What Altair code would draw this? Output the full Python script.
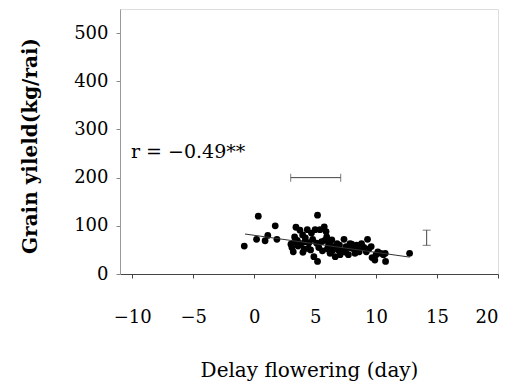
import altair as alt
import pandas as pd

# scatter points: delay flowering (day) vs grain yield (kg/rai)
px = [-0.81, 0.34, 0.2, 0.9, 1.12, 1.73, 1.87, 3.02, 3.21, 3.43, 3.32, 3.54, 3.76, 3.84,
      3.98, 4.17, 4.36, 4.44, 4.63, 4.9, 5.0, 5.2, 5.2, 5.4, 5.75, 5.13, 5.54, 5.95, 6.1,
      6.23, 6.37, 6.5, 6.65, 6.8, 6.9, 7.05, 7.37, 7.54, 7.73, 7.86, 8.08, 8.27, 8.4, 8.62,
      8.81, 9.3, 9.2, 9.6, 9.67, 9.9, 10.15, 10.4, 10.75, 10.78, 12.75,
      3.1, 3.6, 4.0, 4.2, 4.5, 4.7, 5.3, 5.6, 5.8, 6.0, 6.2, 6.4, 6.7, 7.0, 7.2, 7.5, 7.8,
      8.0, 8.5, 9.0, 9.4, 10.0, 10.6, 4.8, 5.9, 3.3, 4.1]
py = [58, 120, 72, 69, 80, 100, 72, 62, 46, 97, 77, 70, 91, 63, 81, 67, 92, 53, 50, 36,
      92, 122, 26, 92, 98, 64, 67, 77, 60, 43, 71, 57, 36, 63, 50, 40, 72, 57, 40, 63, 53,
      43, 60, 46, 63, 72, 46, 57, 34, 29, 46, 43, 43, 26, 43,
      55, 58, 45, 75, 65, 85, 55, 48, 70, 52, 66, 48, 55, 60, 48, 45, 55, 62, 52, 55, 52,
      40, 40, 72, 88, 66, 52]

# regression line end points
line_x = [-0.75, 12.77]
line_y = [83, 35]

# horizontal error bar (x spread) and vertical error bar (y spread)
hbar_x = [3.0, 7.1]
hbar_y = [200]
vbar_x = [14.15]
vbar_y = [59.5, 91]

x_ticks = [-10, -5, 0, 5, 10, 15, 20]
y_ticks = [0, 100, 200, 300, 400, 500]

FONT = "DejaVu Serif"
W, H = 378, 265

xs = alt.Scale(domain=[-11, 20], nice=False, zero=False)
ys = alt.Scale(domain=[0, 550], nice=False)

pts = pd.DataFrame({"x": px, "y": py})
ln = pd.DataFrame({"x": line_x, "y": line_y})
hb = pd.DataFrame({"x": [hbar_x[0]], "x2": [hbar_x[1]], "y": hbar_y})
hb_caps = pd.DataFrame({"x": hbar_x, "y": hbar_y * 2})
vb = pd.DataFrame({"x": vbar_x, "y": [vbar_y[0]], "y2": [vbar_y[1]]})
vb_caps = pd.DataFrame({"x": vbar_x * 2, "y": vbar_y})

xaxis = alt.Axis(values=x_ticks, title="Delay flowering (day)", grid=False,
                 labelFont=FONT, labelFontSize=18, labelColor="black", labelPadding=30,
                 tickSize=4, tickColor="#444", domainColor="#444",
                 titleFont=FONT, titleFontSize=20, titleFontWeight="normal", titleColor="black",
                 titleY=96, titleBaseline="middle")
yaxis = alt.Axis(values=y_ticks, title="Grain yileld(kg/rai)", grid=False,
                 labelFont=FONT, labelFontSize=18, labelColor="black", labelPadding=8,
                 tickSize=4, tickColor="#888", domainColor="#999",
                 titleFont=FONT, titleFontSize=20, titleFontWeight="bold", titleColor="black",
                 titleX=-90, titleY=H / 2 + 4, titleAngle=-90, titleAlign="center",
                 titleBaseline="middle")

scatter = alt.Chart(pts).mark_circle(color="black", opacity=1, size=46).encode(
    x=alt.X("x:Q", scale=xs, axis=xaxis),
    y=alt.Y("y:Q", scale=ys, axis=yaxis),
)
reg = alt.Chart(ln).mark_line(color="#333", strokeWidth=1).encode(
    x=alt.X("x:Q", scale=xs), y=alt.Y("y:Q", scale=ys))
hrule = alt.Chart(hb).mark_rule(color="#444", strokeWidth=1).encode(
    x=alt.X("x:Q", scale=xs), x2="x2:Q", y=alt.Y("y:Q", scale=ys))
hcap = alt.Chart(hb_caps).mark_tick(color="#444", orient="vertical", size=8, thickness=1).encode(
    x=alt.X("x:Q", scale=xs), y=alt.Y("y:Q", scale=ys))
vrule = alt.Chart(vb).mark_rule(color="#444", strokeWidth=1).encode(
    x=alt.X("x:Q", scale=xs), y=alt.Y("y:Q", scale=ys), y2="y2:Q")
vcap = alt.Chart(vb_caps).mark_tick(color="#444", orient="horizontal", size=8, thickness=1).encode(
    x=alt.X("x:Q", scale=xs), y=alt.Y("y:Q", scale=ys))
label = alt.Chart(pd.DataFrame({"x": [-10.1], "y": [253], "t": ["r = −0.49**"]})).mark_text(
    font=FONT, fontSize=19, align="left", baseline="middle", color="black").encode(
    x=alt.X("x:Q", scale=xs), y=alt.Y("y:Q", scale=ys), text="t:N")

chart = alt.layer(scatter, reg, hrule, hcap, vrule, vcap, label).properties(
    width=W, height=H,
    autosize=alt.AutoSizeParams(type="none"),
    padding={"left": 120, "top": 9, "right": 15, "bottom": 111},
).configure_view(stroke="#999", strokeWidth=1).configure(background="white")

chart.save("out.html", embed_options={"renderer": "svg", "actions": False})
